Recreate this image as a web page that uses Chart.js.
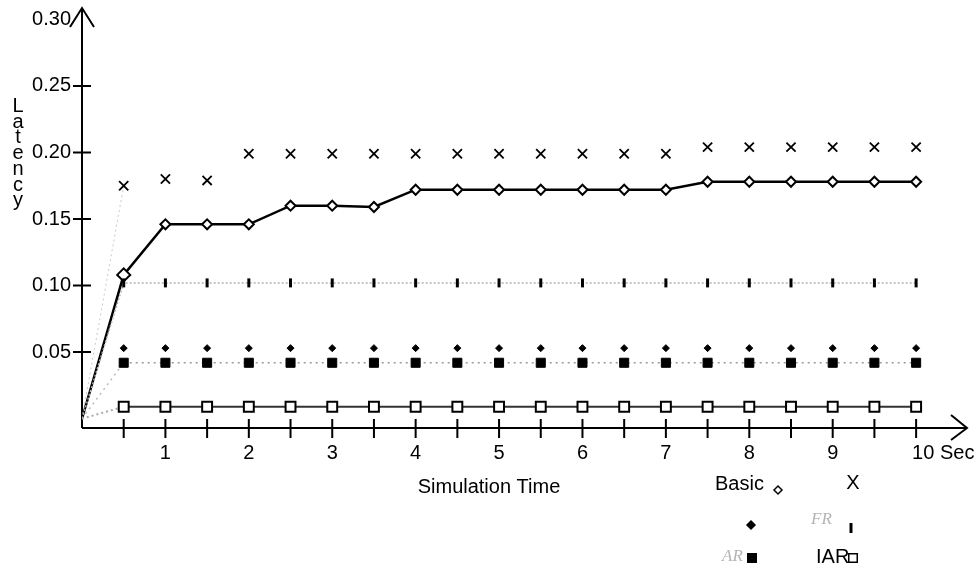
<!DOCTYPE html>
<html>
<head>
<meta charset="utf-8">
<title>Latency vs Simulation Time</title>
<script src="https://cdn.jsdelivr.net/npm/chart.js"></script>
<style>
  html, body { margin: 0; padding: 0; background: #fff; }
  canvas { display: block; }
</style>
</head>
<body>
<canvas id="chartLatency" width="977" height="569"></canvas>
<script>
// simulation time (s); t = 0 is the common origin of the curves
const times = [0, 0.5, 1, 1.5, 2, 2.5, 3, 3.5, 4, 4.5, 5, 5.5, 6, 6.5, 7, 7.5, 8, 8.5, 9, 9.5, 10];

// latency values
const basic = [0, 0.108, 0.146, 0.146, 0.146, 0.160, 0.160, 0.159, 0.172, 0.172, 0.172, 0.172, 0.172, 0.172, 0.172, 0.178, 0.178, 0.178, 0.178, 0.178, 0.178];
const xScheme = [0, 0.175, 0.180, 0.179, 0.199, 0.199, 0.199, 0.199, 0.199, 0.199, 0.199, 0.199, 0.199, 0.199, 0.199, 0.204, 0.204, 0.204, 0.204, 0.204, 0.204];
const fr = [0, 0.102, 0.102, 0.102, 0.102, 0.102, 0.102, 0.102, 0.102, 0.102, 0.102, 0.102, 0.102, 0.102, 0.102, 0.102, 0.102, 0.102, 0.102, 0.102, 0.102];
const unnamed = [null, 0.053, 0.053, 0.053, 0.053, 0.053, 0.053, 0.053, 0.053, 0.053, 0.053, 0.053, 0.053, 0.053, 0.053, 0.053, 0.053, 0.053, 0.053, 0.053, 0.053];
const ar = [0, 0.042, 0.042, 0.042, 0.042, 0.042, 0.042, 0.042, 0.042, 0.042, 0.042, 0.042, 0.042, 0.042, 0.042, 0.042, 0.042, 0.042, 0.042, 0.042, 0.042];
const iar = [0, 0.009, 0.009, 0.009, 0.009, 0.009, 0.009, 0.009, 0.009, 0.009, 0.009, 0.009, 0.009, 0.009, 0.009, 0.009, 0.009, 0.009, 0.009, 0.009, 0.009];

// axis ticks
const yTicks = [0.05, 0.10, 0.15, 0.20, 0.25, 0.30];
const xTicks = [0.5, 1, 1.5, 2, 2.5, 3, 3.5, 4, 4.5, 5, 5.5, 6, 6.5, 7, 7.5, 8, 8.5, 9, 9.5, 10];
const xLabelValues = [1, 2, 3, 4, 5, 6, 7, 8, 9, 10];
const xLabels = ['1', '2', '3', '4', '5', '6', '7', '8', '9', '10 Sec'];

const FONT = '20px "Liberation Sans", Arial, sans-serif';

const toPoints = arr => times.map((t, i) => ({ x: t, y: arr[i] }));
const noOrigin = r => c => (c.dataIndex === 0 ? 0 : r); // no marker at the origin
const firstSeg = (a, b) => c => (c.p0DataIndex === 0 ? a : b);

// axes with arrows, crossing ticks, titles and the little legend
const sketchAxes = {
    id: 'sketchAxes',
    beforeDatasetsDraw(chart) {
        const ctx = chart.ctx;
        const xs = chart.scales.x, ys = chart.scales.y;
        const area = chart.chartArea;
        const x0 = xs.getPixelForValue(0), y0 = area.bottom;
        ctx.save();
        ctx.strokeStyle = '#000';
        ctx.lineWidth = 2;
        ctx.beginPath();
        ctx.moveTo(x0, y0); ctx.lineTo(x0, area.top - 1);
        ctx.moveTo(x0, y0); ctx.lineTo(area.right, y0);
        // arrows
        ctx.moveTo(x0 - 12, area.top + 17); ctx.lineTo(x0, area.top - 2); ctx.lineTo(x0 + 12, area.top + 17);
        ctx.moveTo(area.right - 16, y0 - 13); ctx.lineTo(area.right, y0); ctx.lineTo(area.right - 16, y0 + 12);
        yTicks.forEach(v => {
            if (v >= 0.3) return;
            const py = ys.getPixelForValue(v);
            ctx.moveTo(x0 - 9, py); ctx.lineTo(x0 + 9, py);
        });
        xTicks.forEach(v => {
            const px = xs.getPixelForValue(v);
            ctx.moveTo(px, y0 - 9); ctx.lineTo(px, y0 + 10);
        });
        ctx.stroke();
        ctx.restore();
    },
    afterDraw(chart) {
        const ctx = chart.ctx;
        const xs = chart.scales.x, ys = chart.scales.y;
        const x0 = xs.getPixelForValue(0), y0 = chart.chartArea.bottom;
        ctx.save();
        ctx.font = FONT;
        ctx.fillStyle = '#000';
        ctx.textBaseline = 'middle';
        ctx.textAlign = 'right';
        yTicks.forEach(v => ctx.fillText(v.toFixed(2), x0 - 11, ys.getPixelForValue(v)));
        xLabelValues.forEach((v, i) => {
            const px = xs.getPixelForValue(v);
            const last = i === xLabelValues.length - 1;
            ctx.textAlign = last ? 'left' : 'center';
            ctx.fillText(xLabels[i], last ? px - 4 : px, y0 + 25);
        });
        ctx.textAlign = 'center';
        ctx.fillText('Simulation Time', 489, 487);
        // vertical "Latency"
        ctx.textBaseline = 'alphabetic';
        'Latency'.split('').forEach((ch, i) => ctx.fillText(ch, 18, 112 + i * 15.7));

        // legend
        ctx.textBaseline = 'middle';
        ctx.textAlign = 'left';
        ctx.fillText('Basic', 715, 484);
        ctx.textAlign = 'center';
        ctx.fillText('X', 853, 483);
        ctx.textAlign = 'left';
        ctx.fillText('IAR', 816, 557);
        ctx.fillStyle = '#b4b4b4';
        ctx.font = 'italic 17px "Liberation Serif", serif';
        ctx.fillText('FR', 811, 520);
        ctx.fillText('AR', 722, 557);

        const H = Chart.helpers;
        ctx.strokeStyle = '#000';
        ctx.fillStyle = '#fff'; ctx.lineWidth = 1.5;
        H.drawPoint(ctx, { pointStyle: 'rectRot', radius: 4, borderWidth: 1.5 }, 778, 490);
        H.drawPoint(ctx, { pointStyle: 'rect', radius: 6, borderWidth: 1.5 }, 853, 558);
        ctx.fillStyle = '#000';
        H.drawPoint(ctx, { pointStyle: 'rectRot', radius: 4, borderWidth: 1 }, 751, 525);
        H.drawPoint(ctx, { pointStyle: 'rect', radius: 6, borderWidth: 1 }, 752, 558);
        ctx.lineWidth = 3;
        H.drawPoint(ctx, { pointStyle: 'line', rotation: 90, radius: 5, borderWidth: 3 }, 851, 528);
        ctx.restore();
    }
};

const latencyChart = new Chart(document.getElementById('chartLatency').getContext('2d'), {
    type: 'line',
    data: {
        datasets: [
            {
                label: 'IAR',
                data: toPoints(iar),
                borderColor: '#333',
                borderWidth: 2,
                segment: {
                    borderColor: firstSeg('#aaa', '#333'),
                    borderDash: firstSeg([2, 3], [])
                },
                pointStyle: 'rect',
                pointRadius: noOrigin(7),
                pointBackgroundColor: '#fff',
                pointBorderColor: '#000',
                pointBorderWidth: 2
            },
            {
                label: 'AR',
                data: toPoints(ar),
                borderColor: '#999',
                borderWidth: 1.5,
                borderDash: [2, 4],
                segment: { borderColor: firstSeg('#bbb', '#999') },
                pointStyle: 'rect',
                pointRadius: noOrigin(6.4),
                pointBackgroundColor: '#000',
                pointBorderColor: '#000',
                pointBorderWidth: 1
            },
            {
                label: '',
                data: toPoints(unnamed),
                showLine: false,
                pointStyle: 'rectRot',
                pointRadius: noOrigin(3.5),
                pointBackgroundColor: '#000',
                pointBorderColor: '#000',
                pointBorderWidth: 1
            },
            {
                label: 'FR',
                data: toPoints(fr),
                borderColor: '#b0b0b0',
                borderWidth: 1.5,
                borderDash: [2, 2],
                pointStyle: 'line',
                pointRotation: 90,
                pointRadius: noOrigin(4.5),
                pointBorderColor: '#000',
                pointBorderWidth: 3
            },
            {
                label: 'X',
                data: toPoints(xScheme),
                borderColor: '#c8c8c8',
                borderWidth: 1,
                borderDash: [2, 3],
                segment: { borderColor: firstSeg('#c8c8c8', 'rgba(0,0,0,0)') },
                pointStyle: 'crossRot',
                pointRadius: noOrigin(6.5),
                pointBorderColor: '#000',
                pointBorderWidth: 1.8
            },
            {
                label: 'Basic',
                data: toPoints(basic),
                borderColor: '#000',
                borderWidth: 2.5,
                pointStyle: 'rectRot',
                pointRadius: c => (c.dataIndex === 0 ? 0 : (c.dataIndex === 1 ? 6.5 : 5)),
                pointBackgroundColor: '#fff',
                pointBorderColor: '#000',
                pointBorderWidth: 2
            }
        ]
    },
    options: {
        responsive: false,
        animation: false,
        events: [],
        layout: { padding: { left: 82, top: 10, right: 10, bottom: 141 } },
        elements: { line: { tension: 0 } },
        plugins: {
            legend: { display: false },
            tooltip: { enabled: false }
        },
        scales: {
            x: { type: 'linear', display: false, min: 0, max: 10.61 },
            y: { display: false, min: -0.007, max: 0.307 }
        }
    },
    plugins: [sketchAxes]
});
</script>
</body>
</html>
